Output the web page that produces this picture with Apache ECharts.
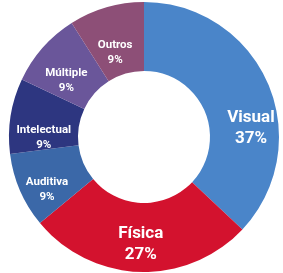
<!DOCTYPE html>
<html>
<head>
<meta charset="utf-8">
<script src="https://cdn.jsdelivr.net/npm/echarts@6/dist/echarts.min.js"></script>
<style>
  html, body { margin: 0; padding: 0; background: #fff; }
  #chart { width: 283px; height: 273px; }
</style>
</head>
<body>
<div id="chart"></div>
<script>
    // tipos de deficiência
    var categories = ['Visual', 'Física', 'Auditiva', 'Intelectual', 'Múltiple', 'Outros'];
    var values = [37, 27, 9, 9, 9, 9];
    var colors = ['#4a85c9', '#d3122e', '#3b68a8', '#2d3680', '#6a569a', '#8d4f77'];
    var big = ['Visual', 'Física'];

    var chart = echarts.init(document.getElementById('chart'));

    var data = [];
    for (var i = 0; i < categories.length; i++) {
        data.push({
            name: categories[i],
            value: values[i],
            itemStyle: { color: colors[i] },
            label: big.indexOf(categories[i]) >= 0
                ? { fontSize: 17, lineHeight: 21 }
                : { fontSize: 11.5, lineHeight: 15 }
        });
    }

    // label shifts (dx, dy) from the slice centre, so labels sit where the original has them
    var nudge = [[12, 32], [0, 4], [-2, 12], [2, 17], [0, 12], [0, 15]];

    var option = {
        animation: false,
        series: [
            {
                type: 'pie',
                center: [144, 137],
                radius: [66, 135],
                startAngle: 90,
                clockwise: true,
                avoidLabelOverlap: false,
                data: data,
                label: {
                    show: true,
                    position: 'inside',
                    color: '#fff',
                    fontWeight: 'bold',
                    fontFamily: 'Roboto, sans-serif',
                    formatter: '{b}\n{c}%'
                },
                labelLine: { show: false },
                labelLayout: function (p) {
                    var n = nudge[p.dataIndex];
                    return { dx: n[0], dy: n[1] };
                }
            }
        ]
    };
    chart.setOption(option);
</script>
</body>
</html>
